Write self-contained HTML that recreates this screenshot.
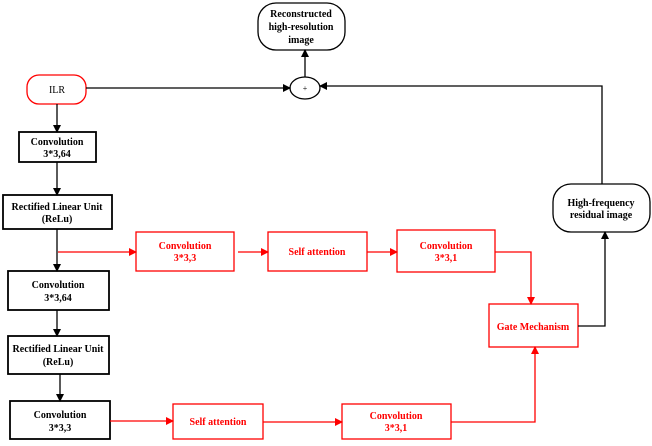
<!DOCTYPE html>
<html><head><meta charset="utf-8"><style>
body{margin:0;background:#fff}
svg text{font-family:"Liberation Serif",serif;font-weight:bold;font-size:10px;text-anchor:middle}
</style></head><body>
<svg width="652" height="441" viewBox="0 0 652 441" xmlns="http://www.w3.org/2000/svg">
<defs>
<marker id="ab" markerWidth="8" markerHeight="8" refX="7" refY="4" orient="auto" markerUnits="userSpaceOnUse"><path d="M0,0 L8,4 L0,8z" fill="#000"/></marker>
<marker id="ar" markerWidth="8" markerHeight="8" refX="7" refY="4" orient="auto" markerUnits="userSpaceOnUse"><path d="M0,0 L8,4 L0,8z" fill="#f00"/></marker>
</defs>
<g fill="none" stroke-width="1.3">
<!-- black boxes -->
<rect x="258" y="3" width="87" height="47" rx="18" stroke="#000"/>
<ellipse cx="305" cy="88" rx="15" ry="11" stroke="#000"/>
<rect x="27" y="75" width="59" height="29" rx="12" stroke="#f00"/>
<rect x="19" y="132" width="77" height="30" stroke="#000" stroke-width="1.8"/>
<rect x="3" y="195" width="109" height="34" stroke="#000" stroke-width="1.8"/>
<rect x="8" y="271" width="101" height="39" stroke="#000" stroke-width="1.8"/>
<rect x="8" y="336" width="101" height="38" stroke="#000" stroke-width="1.8"/>
<rect x="10" y="401" width="100" height="38" stroke="#000" stroke-width="1.8"/>
<rect x="553" y="184" width="97" height="48" rx="18" stroke="#000"/>
<!-- red boxes -->
<rect x="136" y="232" width="98" height="39" stroke="#f00"/>
<rect x="268" y="232" width="99" height="39" stroke="#f00"/>
<rect x="397" y="230" width="98" height="42" stroke="#f00"/>
<rect x="489" y="304" width="89" height="43" stroke="#f00"/>
<rect x="173" y="404" width="90" height="35" stroke="#f00"/>
<rect x="342" y="404" width="109" height="35" stroke="#f00"/>
<!-- black connectors -->
<path d="M86,88 H290" stroke="#000" marker-end="url(#ab)"/>
<path d="M305,77 V50" stroke="#000" marker-end="url(#ab)"/>
<path d="M602,184 V86 H320" stroke="#000" marker-end="url(#ab)"/>
<path d="M578,326 H605 V232" stroke="#000" marker-end="url(#ab)"/>
<path d="M57,104 V132" stroke="#000" marker-end="url(#ab)"/>
<path d="M57,162 V195" stroke="#000" marker-end="url(#ab)"/>
<path d="M57,229 V271" stroke="#000" marker-end="url(#ab)"/>
<path d="M57,310 V336" stroke="#000" marker-end="url(#ab)"/>
<path d="M60,374 V401" stroke="#000" marker-end="url(#ab)"/>
<!-- red connectors -->
<path d="M58,252 H136" stroke="#f00" marker-end="url(#ar)"/>
<path d="M238,252 H268" stroke="#f00" marker-end="url(#ar)"/>
<path d="M367,252 H397" stroke="#f00" marker-end="url(#ar)"/>
<path d="M495,252 H531 V304" stroke="#f00" marker-end="url(#ar)"/>
<path d="M110,421 H173" stroke="#f00" marker-end="url(#ar)"/>
<path d="M263,422 H342" stroke="#f00" marker-end="url(#ar)"/>
<path d="M451,422 H535 V347" stroke="#f00" marker-end="url(#ar)"/>
</g>
<g fill="#000">
<text x="301" y="17">Reconstructed</text>
<text x="301" y="30">high-resolution</text>
<text x="301" y="43">image</text>
<text x="305" y="91" style="font-weight:normal;font-size:8px">+</text>
<text x="57" y="93" fill="#000" style="font-weight:normal">ILR</text>
<text x="57" y="145">Convolution</text>
<text x="57" y="157">3*3,64</text>
<text x="57" y="210">Rectified Linear Unit</text>
<text x="57" y="222">(ReLu)</text>
<text x="58" y="288">Convolution</text>
<text x="58" y="301">3*3,64</text>
<text x="58" y="352">Rectified Linear Unit</text>
<text x="58" y="365">(ReLu)</text>
<text x="60" y="418">Convolution</text>
<text x="60" y="431">3*3,3</text>
<text x="601" y="206">High-frequency</text>
<text x="601" y="218">residual image</text>
</g>
<g fill="#f00">
<text x="185" y="249">Convolution</text>
<text x="185" y="261">3*3,3</text>
<text x="317" y="255">Self attention</text>
<text x="446" y="249">Convolution</text>
<text x="446" y="261">3*3,1</text>
<text x="533" y="330">Gate Mechanism</text>
<text x="218" y="425">Self attention</text>
<text x="396" y="419">Convolution</text>
<text x="396" y="431">3*3,1</text>
</g>
</svg>
</body></html>
